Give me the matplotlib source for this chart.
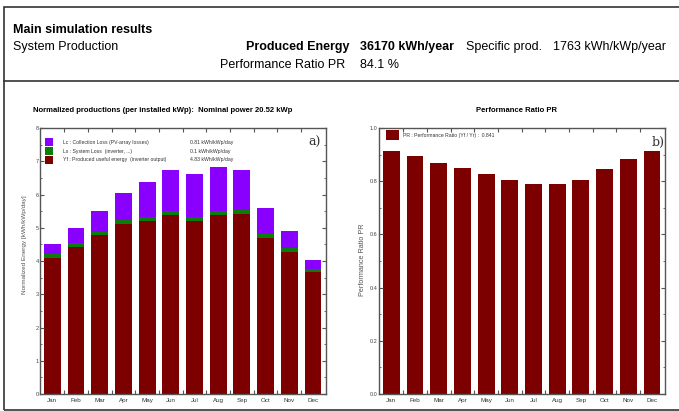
import numpy as np
import matplotlib
matplotlib.use("Agg")
import matplotlib.pyplot as plt
from matplotlib.patches import Rectangle
from matplotlib.lines import Line2D

plt.rcParams['font.family'] = ['Liberation Sans Narrow', 'Liberation Sans', 'DejaVu Sans']

W, H = 679, 411

months = ['Jan', 'Feb', 'Mar', 'Apr', 'May', 'Jun', 'Jul', 'Aug', 'Sep', 'Oct', 'Nov', 'Dec']
# normalized productions, kWh/kWp/day
yf = [4.08, 4.42, 4.77, 5.10, 5.20, 5.37, 5.20, 5.37, 5.40, 4.68, 4.28, 3.67]
ls = [0.12, 0.11, 0.10, 0.12, 0.12, 0.13, 0.12, 0.12, 0.14, 0.12, 0.11, 0.10]
lc = [0.30, 0.47, 0.63, 0.83, 1.05, 1.25, 1.30, 1.33, 1.21, 0.80, 0.51, 0.26]
# performance ratio
pr = [0.912, 0.896, 0.869, 0.849, 0.826, 0.806, 0.789, 0.789, 0.804, 0.845, 0.883, 0.912]

legend_a = [('Lc : Collection Loss (PV-array losses)', '0.81 kWh/kWp/day'),
            ('Ls : System Loss  (inverter, ...)', '0.1 kWh/kWp/day'),
            ('Yf : Produced useful energy  (inverter output)', '4.83 kWh/kWp/day')]
legend_b = 'PR : Performance Ratio (Yf / Yr) :  0.841'

purple = '#8a00ff'
green = '#0a7d0a'
red = '#7d0000'


def fx(px):
    return px / W


def fy(py):
    return 1 - py / H


def axbox(x0, y0, x1, y1):
    return [fx(x0), fy(y1), fx(x1 - x0), (y1 - y0) / H]


fig = plt.figure(figsize=(W / 100, H / 100), dpi=100)
fig.patch.set_facecolor('white')

# outer frame and divider
fig.add_artist(Rectangle((fx(4), fy(410)), fx(700), (410 - 7) / H, transform=fig.transFigure,
                         fill=False, edgecolor='#333333', lw=1.2))
fig.add_artist(Line2D([fx(4), 1.0], [fy(81), fy(81)], transform=fig.transFigure, color='#333333', lw=1.2))

# header
fig.text(fx(13), fy(33), 'Main simulation results', fontsize=9, fontweight='bold')
fig.text(fx(13), fy(50), 'System Production', fontsize=9)
fig.text(fx(350), fy(50), 'Produced Energy', fontsize=9, fontweight='bold', ha='right')
fig.text(fx(360), fy(50), '36170 kWh/year', fontsize=9, fontweight='bold')
fig.text(fx(466), fy(50), 'Specific prod.', fontsize=9)
fig.text(fx(553), fy(50), '1763 kWh/kWp/year', fontsize=9)
fig.text(fx(345), fy(68), 'Performance Ratio PR', fontsize=9, ha='right')
fig.text(fx(360), fy(68), '84.1 %', fontsize=9)

fig.text(fx(33), fy(112), 'Normalized productions (per installed kWp):  Nominal power 20.52 kWp',
         fontsize=5.5, fontweight='bold')
fig.text(fx(516), fy(112), 'Performance Ratio PR', fontsize=5.5, fontweight='bold', ha='center')

x = np.arange(len(months))


def style_axis(ax, ymax, major, minor, fmt):
    ax.set_xlim(-0.52, 11.55)
    ax.set_ylim(0, ymax)
    ax.set_xticks(x[:-1] + 0.5)
    ax.set_xticklabels([])
    ax.set_xticks(x, minor=True)
    ax.set_xticklabels(months, minor=True, fontsize=4.5, color='#333333')
    ax.tick_params(axis='x', which='minor', length=0, pad=3)
    ax.tick_params(axis='x', which='major', direction='in', length=3, top=True, color='#555555')
    ax.set_yticks(np.arange(0, ymax + 1e-9, major))
    ax.set_yticklabels([fmt.format(v) for v in np.arange(0, ymax + 1e-9, major)], fontsize=4, color='#444444')
    ax.set_yticks(np.arange(0, ymax + 1e-9, minor), minor=True)
    ax.tick_params(axis='y', which='both', direction='in', right=True, color='#555555', pad=1)
    ax.tick_params(axis='y', which='major', length=3)
    ax.tick_params(axis='y', which='minor', length=1.5)
    for s in ax.spines.values():
        s.set_color('#555555')
        s.set_linewidth(1.0)


# chart a: normalized productions
ax1 = fig.add_axes(axbox(40, 128, 326, 394))
bottom_ls = np.array(yf)
bottom_lc = bottom_ls + np.array(ls)
ax1.bar(x, yf, width=0.71, color=red)
ax1.bar(x, ls, width=0.71, bottom=bottom_ls, color=green)
ax1.bar(x, lc, width=0.71, bottom=bottom_lc, color=purple)
style_axis(ax1, 8, 1, 0.5, '{:.0f}')

for i, (c, (lab, val)) in enumerate(zip([purple, green, red], legend_a)):
    yy = 142 + i * 9
    fig.add_artist(Rectangle((fx(45), fy(yy + 4)), fx(8), 8 / H, transform=fig.transFigure,
                             facecolor=c, edgecolor='none'))
    fig.text(fx(63), fy(yy), lab, fontsize=3.7, va='center', color='#333333')
    fig.text(fx(190), fy(yy), val, fontsize=3.7, va='center', color='#333333')
fig.text(fx(308), fy(142), 'a)', fontsize=9, family='DejaVu Serif', va='center', color='#333333')
fig.text(fx(25), fy(245), 'Normalized Energy [kWh/kWp/day]', fontsize=4.6, rotation=90,
         ha='center', va='center', color='#555555')

# chart b: performance ratio
ax2 = fig.add_axes(axbox(379, 128, 665, 394))
ax2.bar(x, pr, width=0.71, color=red)
style_axis(ax2, 1.0, 0.2, 0.1, '{:.1f}')

fig.add_artist(Rectangle((fx(386), fy(140)), fx(13), 10 / H, transform=fig.transFigure,
                         facecolor=red, edgecolor='none'))
fig.text(fx(403), fy(135), legend_b, fontsize=3.7, va='center', color='#333333')
fig.text(fx(652), fy(142), 'b)', fontsize=9, family='DejaVu Serif', va='center', color='#333333')
fig.text(fx(362), fy(260), 'Performance Ratio PR', fontsize=5.2, rotation=90,
         ha='center', va='center', color='#555555')

fig.savefig('out.png', dpi=100)
